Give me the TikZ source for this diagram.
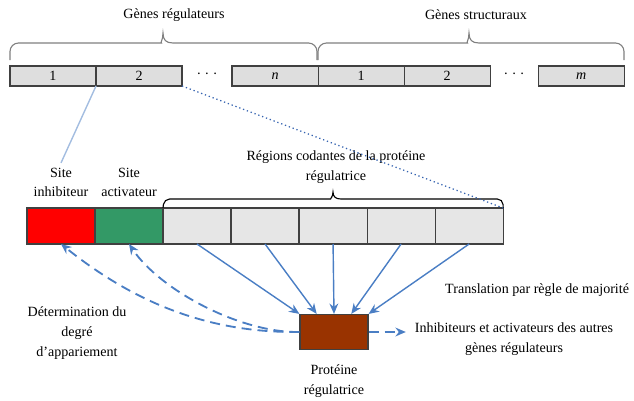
\documentclass[tikz,border=0pt]{standalone}
\usepackage{fontspec}
\setmainfont{Liberation Serif}
\usetikzlibrary{arrows.meta,positioning,calc}

\definecolor{boxgray}{HTML}{404040}
\definecolor{topfill}{HTML}{DEDEDE}
\definecolor{midfill}{HTML}{E6E6E6}
\definecolor{bracecol}{HTML}{808080}
\definecolor{arrowblue}{HTML}{4A7EC4}
\definecolor{lightblue}{HTML}{A3BDE0}
\definecolor{dotblue}{HTML}{3563B0}
\definecolor{inhibred}{HTML}{FF0000}
\definecolor{activgreen}{HTML}{339966}
\definecolor{protbrown}{HTML}{993300}

\begin{document}
\begin{tikzpicture}[
    x=0.025cm, y=-0.025cm,
    every node/.style={font=\fontsize{10}{14}\selectfont},
    txt/.style={align=center},
    genebox/.style={draw=boxgray, line width=0.8pt, fill=topfill, inner sep=0pt, outer sep=0pt,
                    minimum width=2.15cm, minimum height=0.5cm},
    sitebox/.style={draw=boxgray, line width=0.8pt, fill=midfill, inner sep=0pt, outer sep=0pt,
                    minimum width=1.7cm, minimum height=0.9cm},
    codearrow/.style={-{Stealth[length=2.6mm,width=2.2mm]}, line width=1pt, arrowblue},
    backarrow/.style={codearrow, line width=1.3pt, dash pattern=on 2.5mm off 1.5mm},
    bigbrace/.style={draw=bracecol, line width=0.8pt},
    smallbrace/.style={draw=black, line width=0.8pt},
  ]
  \path[use as bounding box] (0,0) rectangle (634,401);

  % === Row: genes ===
  \node[genebox] (g1) at (53,76) {1};
  \node[genebox, right=0pt of g1] (g2) {2};
  \node[right=1.25cm of g2, anchor=center, xshift=-0.625cm] (dotsg) {· · ·};
  \node[genebox, right=1.25cm of g2] (gn) {\textit{n}};
  \node[genebox, right=0pt of gn] (s1) {1};
  \node[genebox, right=0pt of s1] (s2) {2};
  \node[right=1.2cm of s2, anchor=center, xshift=-0.6cm] (dotss) {· · ·};
  \node[genebox, right=1.2cm of s2] (sm) {\textit{m}};

  % Braces
  \draw[bigbrace] (10,60) [rounded corners=6pt] -- (10,43) -- (153,43) [sharp corners]
    .. controls (160,43) and (163,40) .. (163,33)
    .. controls (163,40) and (166,43) .. (173,43) [rounded corners=6pt] -- (317,43) -- (317,60);
  \draw[bigbrace] (318,60) [rounded corners=6pt] -- (318,43) -- (459,43) [sharp corners]
    .. controls (466,43) and (469,40) .. (469,33)
    .. controls (469,40) and (472,43) .. (479,43) [rounded corners=6pt] -- (624,43) -- (624,60);
  \node (genreg) at (174,15) {Gènes régulateurs};
  \node (genstr) at (476,15) {Gènes structuraux};

  % === Row: sites and coding regions ===
  \node[sitebox, fill=inhibred] (red) at (61,226) {};
  \node[sitebox, fill=activgreen, right=0pt of red] (green) {};
  \node[sitebox, right=0pt of green] (c1) {};
  \node[sitebox, right=0pt of c1] (c2) {};
  \node[sitebox, right=0pt of c2] (c3) {};
  \node[sitebox, right=0pt of c3] (c4) {};
  \node[sitebox, right=0pt of c4] (c5) {};

  \node[txt, above=1.5mm of red] (inhib) {Site\\inhibiteur};
  \node[txt, above=1.5mm of green] (activ) {Site\\activateur};

  \draw[smallbrace] (c1.north west) [rounded corners=4pt] -- (164,199) -- (325,199) [sharp corners]
    .. controls (330,199) and (333,197) .. (333,192)
    .. controls (333,197) and (336,199) .. (341,199) [rounded corners=4pt] -- (503,199) -- (c5.north east);
  \node[txt] (regions) at (336,167) {Régions codantes de la protéine\\régulatrice};

  % Links from gene 2
  \draw[lightblue, line width=1pt] (g2.south west) -- (inhib.north);
  \draw[dotblue, line width=0.9pt, dotted] (g2.south east) -- (c5.north east);

  % === Protein ===
  \node[draw=boxgray, line width=0.8pt, fill=protbrown, minimum width=1.7cm,
        minimum height=0.875cm, inner sep=0pt] (prot) at (334,332) {};
  \node[txt, below=2.5mm of prot] (protlab) {Protéine\\régulatrice};

  \draw[codearrow] (c1.south) -- (prot.north west);
  \draw[codearrow] (c2.south) -- ($(prot.north west)!0.25!(prot.north east)$);
  \draw[codearrow] (c3.south) -- (prot.north);
  \draw[codearrow] (c4.south) -- ($(prot.north west)!0.75!(prot.north east)$);
  \draw[codearrow] (c5.south) -- (prot.north east);

  \draw[backarrow] (prot.west) .. controls (210,333) and (136,304) .. (red.south);
  \draw[backarrow] (prot.west) .. controls (240,333) and (160,290) .. (green.south);

  \node[txt] (others) at (514,339) {Inhibiteurs et activateurs des autres\\gènes régulateurs};
  \draw[backarrow, shorten >=1mm] (prot.east) -- (prot.east -| others.west);

  \node[anchor=east] (transl) at (634,290) {Translation par règle de majorité};
  \node[txt] (determ) at (77,333) {Détermination du\\degré\\d’appariement};

\end{tikzpicture}
\end{document}
